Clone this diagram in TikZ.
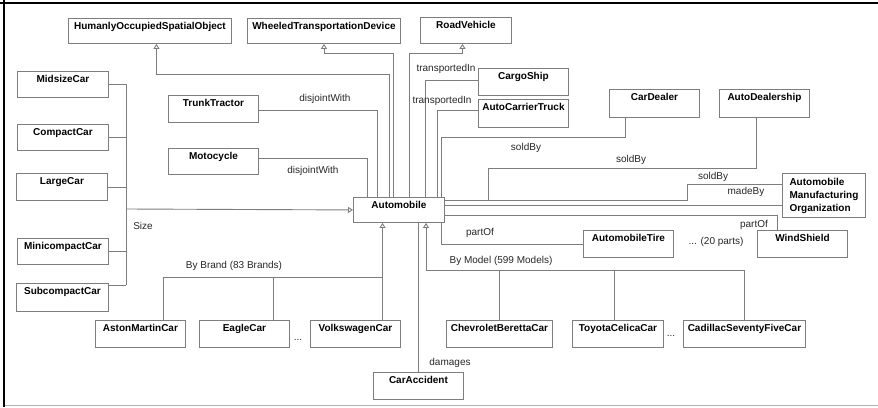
\documentclass[tikz,border=0pt]{standalone}
\usepackage{fontspec}
\setmainfont{Liberation Sans}
\usetikzlibrary{arrows.meta}
\definecolor{edgegray}{RGB}{125,125,125}
\begin{document}
\begin{tikzpicture}[x=1pt,y=-1pt,
  cls/.style={draw=edgegray, line width=0.9pt, fill=white, anchor=north west,
    inner xsep=0pt, inner ysep=0pt, text height=11.5pt,
    font=\fontsize{10}{12}\selectfont\bfseries},
  lbl/.style={font=\fontsize{10}{12}\selectfont, inner sep=0pt, text=black!85},
  conn/.style={draw=edgegray, line width=0.9pt},
  gen/.style={conn, -{Triangle[open, length=5pt, width=6pt, fill=white]}},
]
\useasboundingbox (0,0) rectangle (878,407);

% frame
\draw[line width=2pt] (0,3) -- (878,3);
\draw[line width=2pt] (4.3,0) -- (4.3,407);
\draw[edgegray!60, line width=0.8pt] (5,405) -- (878,405);

% classes
\node[cls, minimum width=163pt, text depth=13.5pt] (hoso) at (68,18) {HumanlyOccupiedSpatialObject};
\node[cls, minimum width=153pt, text depth=13.5pt] (wtd) at (247,18) {WheeledTransportationDevice};
\node[cls, minimum width=91pt, text depth=14.5pt] (rv) at (420,17) {RoadVehicle};
\node[cls, minimum width=91pt, text depth=14.5pt] (midsize) at (17,71) {MidsizeCar};
\node[cls, minimum width=91pt, text depth=14.5pt] (compact) at (17,124) {CompactCar};
\node[cls, minimum width=91pt, text depth=15.5pt] (large) at (16,173) {LargeCar};
\node[cls, minimum width=91pt, text depth=14.5pt] (minicompact) at (17,238) {MinicompactCar};
\node[cls, minimum width=92pt, text depth=16.5pt] (subcompact) at (16,283) {SubcompactCar};
\node[cls, minimum width=90pt, text depth=15.5pt] (trunk) at (168,95) {TrunkTractor};
\node[cls, minimum width=90pt, text depth=14.5pt] (moto) at (168,148) {Motocycle};
\node[cls, minimum width=90pt, text depth=15.5pt] (aston) at (95,320) {AstonMartinCar};
\node[cls, minimum width=90pt, text depth=15.5pt] (eagle) at (199,320) {EagleCar};
\node[cls, minimum width=90pt, text depth=15.5pt] (vw) at (310,320) {VolkswagenCar};
\node[cls, minimum width=106pt, text depth=15.5pt] (chevy) at (446,320) {ChevroletBerettaCar};
\node[cls, minimum width=91pt, text depth=15.5pt] (toyota) at (572,320) {ToyotaCelicaCar};
\node[cls, minimum width=122pt, text depth=15.5pt] (cadillac) at (683,320) {CadillacSeventyFiveCar};
\node[cls, minimum width=90pt, text depth=15.5pt] (accident) at (373,372) {CarAccident};
\node[cls, minimum width=90pt, text depth=15.5pt] (cargo) at (478,68) {CargoShip};
\node[cls, minimum width=90pt, text depth=16.5pt] (act) at (478,99) {AutoCarrierTruck};
\node[cls, minimum width=90pt, text depth=16.5pt] (dealer) at (609,89) {CarDealer};
\node[cls, minimum width=90pt, text depth=16.5pt] (dealership) at (719,89) {AutoDealership};
\node[cls, minimum width=91pt, text depth=13.5pt] (auto) at (353,197) {Automobile};
\node[cls, minimum width=90pt, text depth=15.5pt] (tire) at (583,230) {AutomobileTire};
\node[cls, minimum width=90pt, text depth=15.5pt] (wind) at (757,230) {WindShield};
\node[draw=edgegray, line width=0.9pt, fill=white, anchor=north west,
  minimum width=83pt, minimum height=44pt, inner xsep=7pt, inner ysep=0pt,
  align=left, font=\fontsize{10}{13}\selectfont\bfseries] (amo) at (782,173)
  {Automobile\\Manufacturing\\Organization};

% superclasses above Automobile
\draw[gen] ([xshift=-9.5pt]auto.north) -- ++(0,-123) -| ([xshift=6.5pt]hoso.south);
\draw[gen] ([xshift=-5.5pt]auto.north) -- ++(0,-144) -| (wtd.south);
\draw[gen] ([xshift=10.5pt]auto.north) -- ++(0,-144) -| ([xshift=-3.5pt]rv.south);

% disjointness
\draw[conn] ([yshift=-1.5pt]trunk.east) -| ([xshift=-21.5pt]auto.north);
\draw[conn] ([yshift=3pt]moto.east) -| ([xshift=-31.5pt]auto.north);

% transport
\draw[conn] ([yshift=2pt]cargo.west) -| ([xshift=26.5pt]auto.north);
\draw[conn] ([yshift=3pt]act.west) -| ([xshift=38.5pt]auto.north);

% sellers and maker
\draw[conn] ([xshift=-29pt]dealer.south) -- ++(0,20) -| ([xshift=42.5pt]auto.north);
\draw[conn] ([yshift=9.5pt]auto.east) -- ++(44,0) -- ++(0,-32) -| ([xshift=-8pt]dealership.south);
\draw[conn] ([yshift=9.5pt]auto.east) -| ++(243,-16) -- ([yshift=11pt]amo.west);
\draw[conn] ([yshift=4.5pt]auto.east) -- ([yshift=4.5pt]auto.east -| amo.west);

% parts
\draw[conn] ([yshift=-5.5pt]auto.east) -| ([xshift=-25pt]wind.north);
\draw[conn] ([xshift=42.5pt]auto.south) |- (tire.west);

% size partition
\coordinate (sizebus) at (126,209);
\draw[conn] (midsize.east) -- (midsize.east -| sizebus);
\draw[conn] (compact.east) -- (compact.east -| sizebus);
\draw[conn] (large.east) -- (large.east -| sizebus);
\draw[conn] (minicompact.east) -- (minicompact.east -| sizebus);
\draw[conn] ([yshift=12pt]subcompact.east) -- ([yshift=12pt]subcompact.east -| sizebus);
\draw[conn] (midsize.east -| sizebus) -- ([yshift=12pt]subcompact.east -| sizebus);
\draw[gen] (sizebus) -- (auto.west);

% brand partition
\coordinate (brandbus) at (382.5,277);
\draw[gen] (brandbus |- vw.north) -- (brandbus |- auto.south);
\draw[conn] ([xshift=23pt]aston.north) |- (brandbus);
\draw[conn] ([xshift=29pt]eagle.north) -- ++(0,-43);

% model partition
\coordinate (modelbus) at (426,270);
\draw[gen] (modelbus) -- (modelbus |- auto.south);
\draw[conn] (modelbus) -| (cadillac.north);
\draw[conn] (chevy.north) -- (chevy.north |- modelbus);
\draw[conn] ([xshift=-3.5pt]toyota.north) -- ++(0,-50);

% accident
\draw[conn] (accident.north) -- (accident.north |- auto.south);

% labels
\node[lbl] (l1) at (325,99) {disjointWith};
\node[lbl] (l2) at (313,171) {disjointWith};
\node[lbl] (l3) at (446,69) {transportedIn};
\node[lbl] (l4) at (442,101) {transportedIn};
\node[lbl] (l5) at (526,148) {soldBy};
\node[lbl] (l6) at (631,160) {soldBy};
\node[lbl] (l7) at (713,177) {soldBy};
\node[lbl] (l8) at (746,192) {madeBy};
\node[lbl] (l9) at (754,225) {partOf};
\node[lbl] (l10) at (480,233) {partOf};
\node[lbl] (l11) at (716,242) {... (20 parts)};
\node[lbl] (l12) at (143,226) {Size};
\node[lbl] (l13) at (234,266) {By Brand (83 Brands)};
\node[lbl] (l14) at (501,261) {By Model (599 Models)};
\node[lbl] (l15) at (450,363) {damages};
\node[lbl] (l16) at (298,340) {...};
\node[lbl] (l17) at (671,336) {...};
\end{tikzpicture}
\end{document}
